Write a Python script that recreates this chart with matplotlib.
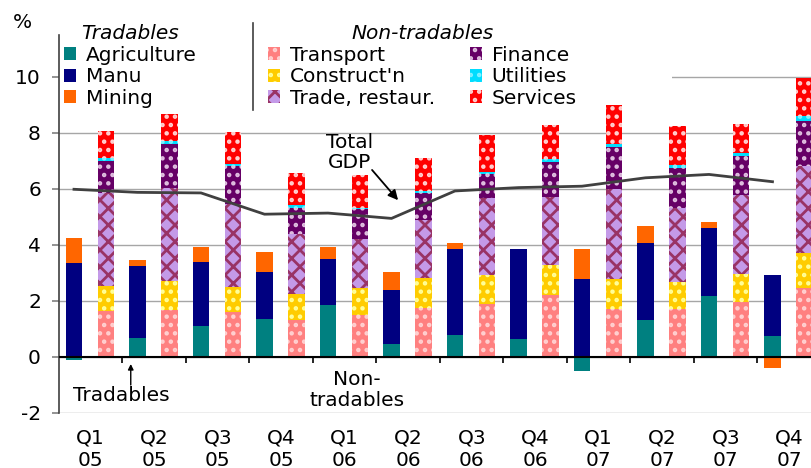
import numpy as np
import matplotlib
matplotlib.use('Agg')
import matplotlib.pyplot as plt
from matplotlib.patches import Rectangle
from matplotlib.lines import Line2D

plt.rcParams['font.family'] = ['DejaVu Sans']
plt.rcParams['font.size'] = 14.5
plt.rcParams['hatch.linewidth'] = 1.5

quarters = ['Q1\n05', 'Q2\n05', 'Q3\n05', 'Q4\n05', 'Q1\n06', 'Q2\n06',
            'Q3\n06', 'Q4\n06', 'Q1\n07', 'Q2\n07', 'Q3\n07', 'Q4\n07']

# tradables, contribution to growth (ppts)
agriculture = [-0.09, 0.69, 1.11, 1.36, 1.86, 0.46, 0.79, 0.64, -0.49, 1.32, 2.18, 0.75]
manu = [3.36, 2.57, 2.28, 1.68, 1.64, 1.93, 3.07, 3.22, 2.79, 2.75, 2.43, 2.18]
mining = [0.90, 0.20, 0.55, 0.71, 0.44, 0.65, 0.21, 0.0, 1.07, 0.61, 0.21, -0.38]

# non-tradables
transport = [1.64, 1.68, 1.61, 1.32, 1.50, 1.75, 1.90, 2.21, 1.70, 1.70, 1.98, 2.48]
construct = [0.90, 1.03, 0.89, 0.93, 0.96, 1.07, 1.03, 1.08, 1.09, 0.98, 0.98, 1.25]
trade = [3.33, 3.31, 2.95, 2.14, 1.74, 2.07, 2.74, 2.42, 3.20, 2.63, 2.82, 3.09]
finance = [1.13, 1.60, 1.38, 0.94, 1.08, 0.95, 0.88, 1.25, 1.51, 1.45, 1.41, 1.61]
utilities = [0.12, 0.11, 0.08, 0.10, 0.05, 0.09, 0.07, 0.10, 0.12, 0.10, 0.10, 0.18]
services = [0.95, 0.95, 1.13, 1.14, 1.16, 1.18, 1.31, 1.23, 1.38, 1.39, 1.03, 1.34]

total_gdp = [5.99, 5.88, 5.86, 5.10, 5.14, 4.95, 5.93, 6.05, 6.10, 6.40, 6.52, 6.26]

fig = plt.figure(figsize=(8.12, 4.68), dpi=100)
ax = fig.add_axes([59/812, 55/468, 762/812, 378/468])

x = np.arange(len(quarters))
xt = x + 0.236
xn = x + 0.74
w = 0.26


def stack(ax, xpos, series, styles):
    pos = np.zeros(len(xpos))
    neg = np.zeros(len(xpos))
    out = []
    for vals, st in zip(series, styles):
        v = np.array(vals, dtype=float)
        bottom = np.where(v >= 0, pos, neg)
        b = ax.bar(xpos, v, w, bottom=bottom, zorder=2, **st)
        out.append(b)
        pos = pos + np.where(v >= 0, v, 0)
        neg = neg + np.where(v < 0, v, 0)
    return out


trad_styles = [
    dict(color='#008080', label='Agriculture'),
    dict(color='#000080', label='Manu'),
    dict(color='#FF6600', label='Mining'),
]
non_styles = [
    dict(facecolor='#FF8080', edgecolor='#FFD0D0', hatch='..', linewidth=0, label='Transport'),
    dict(facecolor='#FFCC00', edgecolor='#FFFF99', hatch='..', linewidth=0, label="Construct'n"),
    dict(facecolor='#C49AE8', edgecolor='#993366', hatch='xx', linewidth=0, label='Trade, restaur.'),
    dict(facecolor='#660066', edgecolor='#E0C0E0', hatch='..', linewidth=0, label='Finance'),
    dict(facecolor='#00DDFF', edgecolor='#80F0FF', hatch='..', linewidth=0, label='Utilities'),
    dict(facecolor='#FF0000', edgecolor='#FFD0D0', hatch='..', linewidth=0, label='Services'),
]
plt.rcParams['hatch.linewidth'] = 2.0

tb = stack(ax, xt, [agriculture, manu, mining], trad_styles)
nb = stack(ax, xn, [transport, construct, trade, finance, utilities, services], non_styles)

ax.plot(xt, total_gdp, color='#404040', lw=2, zorder=3)

ax.set_xlim(0, 12)
ax.set_ylim(-2, 11.5)
ax.set_yticks(np.arange(-2, 11, 2))
ax.set_yticklabels([str(v) for v in range(-2, 11, 2)])
ax.tick_params(axis='y', length=5, width=1.2, color='#808080', pad=8)

ax.set_xticks(x + 0.5)
ax.set_xticklabels(quarters)
ax.tick_params(axis='x', length=0, pad=11)
for t in ax.get_xticklabels():
    t.set_linespacing(1.22)

for s in ['top', 'right', 'bottom']:
    ax.spines[s].set_visible(False)
ax.spines['left'].set_color('#404040')
ax.spines['left'].set_linewidth(1.2)

ax.grid(axis='y', color='#A6A6A6', lw=1)
ax.set_axisbelow(True)
ax.axhline(0, color='black', lw=1.5, zorder=2.6)
ax.vlines(np.arange(1, 12), -0.2, 0, color='black', lw=1.2, zorder=2.6)

# white box behind the legends
ax.add_patch(Rectangle((0, 8.85), 9.65, 3, facecolor='white', lw=0, zorder=1))

leg_kw = dict(loc='upper left', bbox_transform=fig.transFigure, frameon=False,
              title_fontproperties={'style': 'italic', 'size': 14.5},
              handlelength=0.6, handleheight=0.6, handletextpad=0.5,
              labelspacing=0.13, borderpad=0, borderaxespad=0)
leg1 = ax.legend(handles=tb, title='Tradables', bbox_to_anchor=(64/812, 1 - 24/468), **leg_kw)
ax.add_artist(leg1)
leg2 = ax.legend(handles=nb, title='Non-tradables', ncol=2, columnspacing=1.7,
                 bbox_to_anchor=(268/812, 1 - 24/468), **leg_kw)
fig.add_artist(Line2D([253/812, 253/812], [1 - 23/468, 1 - 110/468], color='#404040', lw=1.2))

fig.text(22/812, 1 - 22/468, '%', ha='center', va='center')

# annotations
ax.text(4.57, 7.29, 'Total\nGDP', ha='center', va='center', linespacing=1.08)
ax.annotate('', xy=(5.34, 5.6), xytext=(4.93, 6.68),
            arrowprops=dict(arrowstyle='-|>', color='black', lw=1.3, shrinkA=0, shrinkB=0))
ax.text(0.98, -1.39, 'Tradables', ha='center', va='center')
ax.annotate('', xy=(1.13, -0.25), xytext=(1.13, -1.0),
            arrowprops=dict(arrowstyle='-|>', color='black', lw=1, shrinkA=0, shrinkB=0,
                            mutation_scale=8))
ax.text(4.69, -1.18, 'Non-\ntradables', ha='center', va='center', linespacing=1.08)

fig.savefig('out.png', dpi=100)
